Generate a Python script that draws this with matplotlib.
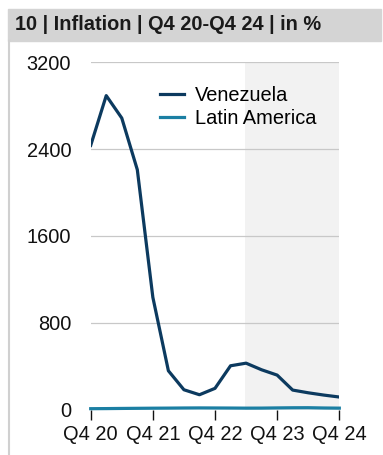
import numpy as np
import matplotlib
matplotlib.use("Agg")
import matplotlib.pyplot as plt
from matplotlib.patches import Rectangle
from matplotlib.lines import Line2D

plt.rcParams["font.family"] = ["Liberation Sans", "DejaVu Sans"]

# quarterly inflation, Q4 20 .. Q4 24 (in %)
quarters = ["Q4 20", "Q1 21", "Q2 21", "Q3 21", "Q4 21", "Q1 22", "Q2 22", "Q3 22",
            "Q4 22", "Q1 23", "Q2 23", "Q3 23", "Q4 23", "Q1 24", "Q2 24", "Q3 24", "Q4 24"]
venezuela = [2434, 2893, 2686, 2210, 1034, 357, 182, 136, 195, 403, 427, 366, 317,
             179, 154, 133, 115]
latin_america = [7.5, 8.4, 9.8, 10.9, 12.0, 12.8, 13.9, 14.6, 14.0, 13.4, 12.5, 12.9,
                 14.6, 16.0, 16.5, 13.9, 12.5]
tick_labels = ["Q4 20", "Q4 21", "Q4 22", "Q4 23", "Q4 24"]
y_ticks = [0, 800, 1600, 2400, 3200]
forecast_start = 10  # index of first forecast quarter

navy = "#0c3a5f"
teal = "#1b7fa3"
fs = 14.4

fig = plt.figure(figsize=(3.83, 4.55), dpi=100)

# header bar and left rule
fig.patches.append(Rectangle((8 / 383, 1 - 41 / 455), 373 / 383, 32 / 455,
                             transform=fig.transFigure, color="#d4d4d4", zorder=0))
fig.lines.append(Line2D([8.5 / 383, 8.5 / 383], [0, 1 - 41 / 455],
                        transform=fig.transFigure, color="#d0d0d0", lw=1.5))
fig.text(15 / 383, 1 - 25 / 455, "10 | Inflation | Q4 20-Q4 24 | in %",
         fontsize=fs, fontweight="bold", color="#1a1a1a", va="center", ha="left")

ax = fig.add_axes([90.7 / 383, 1 - 409.5 / 455, (339.3 - 90.7) / 383, (409.5 - 62.3) / 455])
x = np.arange(len(quarters))

ax.axvspan(forecast_start - 0.08, len(quarters) - 1, color="#f2f2f2", lw=0, zorder=0)
ax.plot(x, venezuela, color=navy, lw=2.3, label="Venezuela", zorder=3)
ax.plot(x, latin_america, color=teal, lw=2.3, label="Latin America", zorder=3,
        clip_on=False)

ax.set_xlim(0, len(quarters) - 1)
ax.set_ylim(0, 3200)
ax.set_yticks(y_ticks)
ax.set_xticks([quarters.index(t) for t in tick_labels])
ax.set_xticklabels(tick_labels)
ax.grid(axis="y", color="#c8c8c8", lw=0.9, zorder=1)
ax.set_axisbelow(True)
for s in ax.spines.values():
    s.set_visible(False)
ax.tick_params(axis="y", length=0, pad=14, labelsize=fs, labelcolor="#111111")
ax.tick_params(axis="x", length=7, width=1, color="#111111", pad=4,
               labelsize=fs, labelcolor="#111111")

ax.legend(loc="upper left", bbox_to_anchor=(160 / 383, 1 - 86 / 455),
          bbox_transform=fig.transFigure, frameon=False, fontsize=fs,
          handlelength=1.2, handletextpad=0.55, labelspacing=0.2, borderaxespad=0,
          borderpad=0)

fig.savefig("out.png", dpi=100)
